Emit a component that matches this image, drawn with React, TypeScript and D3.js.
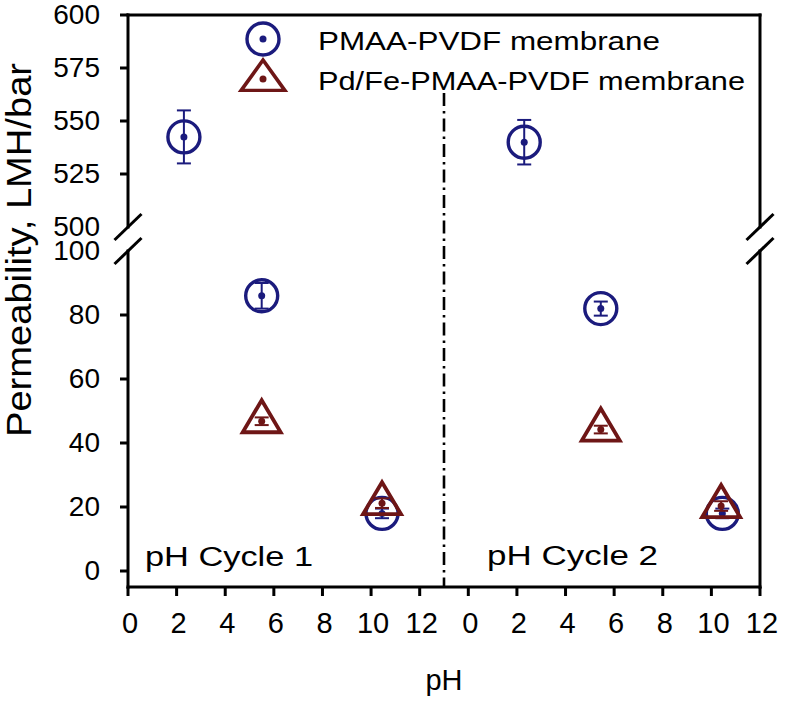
import React from "react";
import * as d3 from "d3";

// ---- data ----
const phTicks = [0, 2, 4, 6, 8, 10, 12];
const upperTicks = [600, 575, 550, 525, 500];
const lowerTicks = [100, 80, 60, 40, 20, 0];
const cycleLabels = ["pH Cycle 1", "pH Cycle 2"];

const pmaaCycle = [1, 1, 1, 2, 2, 2];
const pmaaPH = [2.3, 5.5, 10.45, 2.3, 5.45, 10.45];
const pmaaValue = [542.5, 86, 18, 540, 82, 18];
const pmaaError = [12.5, 4, 1.5, 10.5, 2.2, 1.5];

const pdfeCycle = [1, 1, 2, 2];
const pdfePH = [5.5, 10.45, 5.45, 10.4];
const pdfeValue = [46.8, 21.2, 44.2, 20.3];
const pdfeError = [1.2, 1.5, 1.2, 1.5];

const legendLabels = ["PMAA-PVDF membrane", "Pd/Fe-PMAA-PVDF membrane"];

// ---- layout ----
const W = 800, H = 702;
const left = 128, right = 760, top = 15, bottom = 587;
const breakTop = 227, breakBottom = 251;
const cycleOffset = 14;
const BLUE = "#1b1b7d";
const RED = "#6e1616";
const FONT = "'Liberation Sans', Arial, Helvetica, sans-serif";

const x = d3.scaleLinear().domain([0, 26]).range([left, right]);
const yUpper = d3.scaleLinear().domain([500, 600]).range([breakTop, top]);
const yLower = d3.scaleLinear().domain([-5, 100]).range([bottom, breakBottom]);
const y = (v: number) => (v >= 500 ? yUpper(v) : yLower(v));
const xc = (ph: number, cycle: number) => x(ph + (cycle - 1) * cycleOffset);

const triPath = (s = 1) =>
  `M0,${-21 * s}L${19 * s},${11 * s}L${-19 * s},${11 * s}Z`;

function ErrorBar({ cx, v, e, color }: { cx: number; v: number; e: number; color: string }) {
  const y1 = y(v + e), y2 = y(v - e);
  const cw = 7;
  return (
    <g stroke={color} strokeWidth={2}>
      <line x1={cx} x2={cx} y1={y1} y2={y2} />
      <line x1={cx - cw} x2={cx + cw} y1={y1} y2={y1} />
      <line x1={cx - cw} x2={cx + cw} y1={y2} y2={y2} />
    </g>
  );
}

function CircleMarker({ cx, cy }: { cx: number; cy: number }) {
  return (
    <g>
      <circle cx={cx} cy={cy} r={16} fill="none" stroke={BLUE} strokeWidth={3.4} />
      <circle cx={cx} cy={cy} r={3.5} fill={BLUE} />
    </g>
  );
}

function TriMarker({ cx, cy, s = 1 }: { cx: number; cy: number; s?: number }) {
  return (
    <g transform={`translate(${cx},${cy})`}>
      <path d={triPath(s)} fill="none" stroke={RED} strokeWidth={3.8} strokeLinejoin="miter" />
      <circle r={3.5} fill={RED} />
    </g>
  );
}

export default function App() {
  const slash = (sx: number, sy: number, k: string) => (
    <line key={k} x1={sx - 13.5} y1={sy + 13} x2={sx + 13.5} y2={sy - 13} stroke="#000" strokeWidth={3} />
  );
  return (
    <svg width={W} height={H} style={{ position: "absolute", left: 0, top: 0, background: "#fff" }}
      fontFamily={FONT}>
      <rect width={W} height={H} fill="#fff" />
      {/* frame */}
      <g stroke="#000" strokeWidth={3} strokeLinecap="square">
        <line x1={left} x2={right} y1={top} y2={top} />
        <line x1={left} x2={right} y1={bottom} y2={bottom} />
        <line x1={left} x2={left} y1={top} y2={breakTop} />
        <line x1={left} x2={left} y1={breakBottom} y2={bottom} />
        <line x1={right} x2={right} y1={top} y2={breakTop} />
        <line x1={right} x2={right} y1={breakBottom} y2={bottom} />
      </g>
      {slash(left, breakTop, "l1")}
      {slash(left, breakBottom, "l2")}
      {slash(right, breakTop, "r1")}
      {slash(right, breakBottom, "r2")}

      {/* y ticks */}
      <g stroke="#000" strokeWidth={3}>
        {upperTicks.filter((t) => t !== 500).map((t) => (
          <line key={"ut" + t} x1={left - 8} x2={left} y1={yUpper(t)} y2={yUpper(t)} />
        ))}
        {lowerTicks.filter((t) => t !== 100).map((t) => (
          <line key={"lt" + t} x1={left - 8} x2={left} y1={yLower(t)} y2={yLower(t)} />
        ))}
      </g>
      <g fontSize={28} textAnchor="end" fill="#000">
        {upperTicks.map((t) => (
          <text key={"ul" + t} x={100} y={yUpper(t) + 9}>{t}</text>
        ))}
        {lowerTicks.map((t) => (
          <text key={"ll" + t} x={100} y={yLower(t) + 9}>{t}</text>
        ))}
      </g>

      {/* x ticks */}
      {[1, 2].map((c) => (
        <g key={"xt" + c}>
          {phTicks.map((t) => (
            <g key={t}>
              <line x1={xc(t, c)} x2={xc(t, c)} y1={bottom} y2={bottom + 9} stroke="#000" strokeWidth={3} />
              <text x={xc(t, c) + 2} y={633} fontSize={29} textAnchor="middle">{t}</text>
            </g>
          ))}
        </g>
      ))}

      {/* cycle divider */}
      <line x1={x(13)} x2={x(13)} y1={93} y2={bottom} stroke="#000" strokeWidth={2.6}
        strokeDasharray="13 5 2.5 5" />

      {/* axis titles */}
      <text x={444} y={690} fontSize={29} textAnchor="middle">pH</text>
      <text transform={`translate(31,250) rotate(-90)`} fontSize={35} textAnchor="middle"
        textLength={374} lengthAdjust="spacingAndGlyphs">Permeability, LMH/bar</text>

      {/* cycle labels */}
      <text x={145} y={566} fontSize={27} textLength={168} lengthAdjust="spacingAndGlyphs">{cycleLabels[0]}</text>
      <text x={487} y={565} fontSize={27} textLength={171} lengthAdjust="spacingAndGlyphs">{cycleLabels[1]}</text>

      {/* data: PMAA */}
      {pmaaPH.map((ph, i) => {
        const cx = xc(ph, pmaaCycle[i]);
        return (
          <g key={"p" + i}>
            <CircleMarker cx={cx} cy={y(pmaaValue[i])} />
            <ErrorBar cx={cx} v={pmaaValue[i]} e={pmaaError[i]} color={BLUE} />
          </g>
        );
      })}
      {/* data: Pd/Fe */}
      {pdfePH.map((ph, i) => {
        const cx = xc(ph, pdfeCycle[i]);
        return (
          <g key={"d" + i}>
            <TriMarker cx={cx} cy={y(pdfeValue[i])} />
            <ErrorBar cx={cx} v={pdfeValue[i]} e={pdfeError[i]} color={RED} />
          </g>
        );
      })}

      {/* legend */}
      <CircleMarker cx={263} cy={39} />
      <g transform="translate(263,80) scale(1.15,0.95)">
        <path d={triPath()} fill="none" stroke={RED} strokeWidth={3.4} />
      </g>
      <circle cx={263} cy={79} r={3.5} fill={RED} />
      <text x={318} y={50} fontSize={26} textLength={342} lengthAdjust="spacingAndGlyphs">{legendLabels[0]}</text>
      <text x={318} y={90} fontSize={26} textLength={427} lengthAdjust="spacingAndGlyphs">{legendLabels[1]}</text>
    </svg>
  );
}
